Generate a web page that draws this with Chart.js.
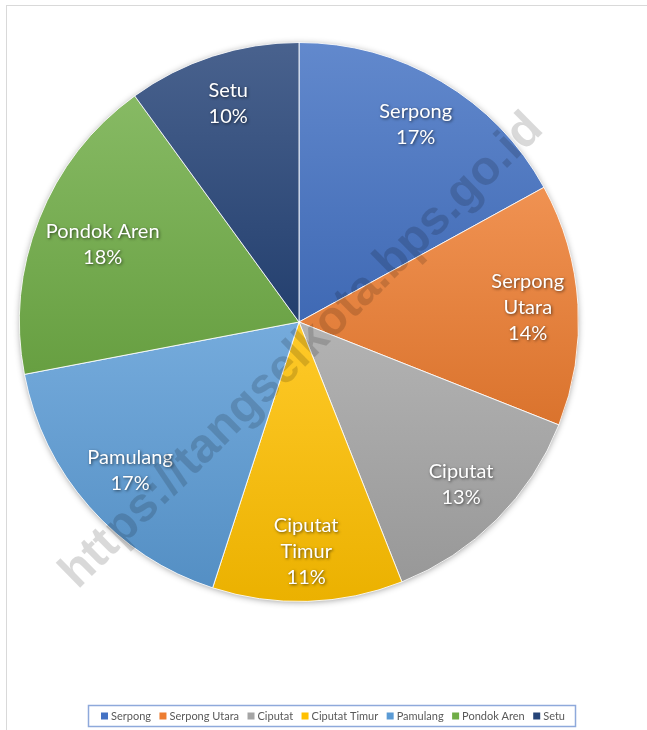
<!DOCTYPE html>
<html><head><meta charset="utf-8">
<script src="https://cdn.jsdelivr.net/npm/chart.js@4.4.0/dist/chart.umd.min.js"></script>
<style>html,body{margin:0;padding:0;background:#fff;} #wrap{width:647px;height:730px;position:relative;}</style>
</head><body><div id="wrap"><canvas id="c"></canvas></div>
<script>
const categories = ['Serpong','Serpong Utara','Ciputat','Ciputat Timur','Pamulang','Pondok Aren','Setu'];
const shares = [17,14,13,11,17,18,10];
const sliceColors = ['#4472C4','#ED7D31','#A5A5A5','#FFC000','#5B9BD5','#70AD47','#264478'];
const watermarkText = 'https://tangselkota.bps.go.id';

function hexToRgb(h){const n=parseInt(h.slice(1),16);return [(n>>16)&255,(n>>8)&255,n&255];}
function mix(h,t){
  const c=hexToRgb(h);
  const r=c.map(v=>t>=0?Math.round(v+(255-v)*t):Math.round(v*(1+t)));
  return 'rgb('+r.join(',')+')';
}
const total = shares.reduce((a,b)=>a+b,0);

function sliceGradient(context){
  const chart=context.chart, a=chart.chartArea, i=context.dataIndex;
  const base=sliceColors[i];
  if(!a) return base;
  const cx=(a.left+a.right)/2, cy=(a.top+a.bottom)/2, R=Math.min(a.width,a.height)/2;
  let before=0; for(let k=0;k<i;k++) before+=shares[k];
  const s=-Math.PI/2+before/total*2*Math.PI, e=s+shares[i]/total*2*Math.PI;
  const ys=[cy, cy+R*Math.sin(s), cy+R*Math.sin(e)];
  for(const ang of [Math.PI/2, -Math.PI/2, 3*Math.PI/2]){
    if(ang>s && ang<e) ys.push(cy+R*Math.sin(ang));
  }
  const top=Math.min(...ys), bot=Math.max(...ys);
  const g=chart.ctx.createLinearGradient(0,top,0,bot);
  g.addColorStop(0, mix(base,0.16));
  g.addColorStop(1, mix(base,-0.08));
  return g;
}

const framePlugin = {
  id:'frame',
  beforeDraw(chart){
    const ctx=chart.ctx; ctx.save();
    ctx.strokeStyle='#d9d9d9'; ctx.lineWidth=1;
    ctx.strokeRect(6.5,5.5,chart.width,chart.height);
    ctx.restore();
  },
  beforeDatasetsDraw(chart){
    const meta=chart.getDatasetMeta(0); const arc=meta.data[0]; if(!arc) return;
    const p=arc.getProps(['x','y','outerRadius'],true);
    const ctx=chart.ctx; ctx.save();
    ctx.shadowColor='rgba(0,0,0,0.45)'; ctx.shadowBlur=7; ctx.shadowOffsetX=0; ctx.shadowOffsetY=1;
    ctx.fillStyle='#888'; ctx.beginPath(); ctx.arc(p.x,p.y,p.outerRadius-1,0,Math.PI*2); ctx.fill();
    ctx.restore();
  }
};

const labelPlugin = {
  id:'sliceLabels',
  afterDatasetsDraw(chart){
    const ctx=chart.ctx, meta=chart.getDatasetMeta(0);
    ctx.save();
    ctx.font='20px Lato'; ctx.fillStyle='#fff'; ctx.textAlign='center'; ctx.textBaseline='middle';
    meta.data.forEach((arc,i)=>{
      const p=arc.getProps(['x','y','startAngle','endAngle','outerRadius'],true);
      const mid=(p.startAngle+p.endAngle)/2;
      const pct=Math.round(shares[i]/total*100)+'%';
      const lines=(shares[i]<15 && categories[i].includes(' '))?[...categories[i].split(' '),pct]:[categories[i],pct];
      const lh=26;
      const w=Math.max(...lines.map(l=>ctx.measureText(l).width))+4;
      const h=lines.length*lh-8;
      let r=p.outerRadius*0.82; const lim=p.outerRadius-5;
      let cx,cy;
      for(let k=0;k<150;k++){
        cx=p.x+Math.cos(mid)*r; cy=p.y+Math.sin(mid)*r;
        const cs=[[cx-w/2,cy-h/2],[cx+w/2,cy-h/2],[cx-w/2,cy+h/2],[cx+w/2,cy+h/2]];
        if(cs.every(([x,y])=>Math.hypot(x-p.x,y-p.y)<=lim)) break;
        r-=1;
      }
      ctx.shadowColor='rgba(0,0,0,0.6)'; ctx.shadowBlur=3; ctx.shadowOffsetX=1; ctx.shadowOffsetY=1;
      lines.forEach((l,j)=>{
        ctx.fillText(l, cx, cy-(lines.length-1)*lh/2+j*lh);
      });
    });
    ctx.restore();
  },
  afterDraw(chart){
    const ctx=chart.ctx;
    ctx.save();
    ctx.strokeStyle='#8EA9DB'; ctx.lineWidth=1.5;
    ctx.strokeRect(88.5,705.5,487,21);
    ctx.font='11px Lato'; ctx.textBaseline='middle'; ctx.textAlign='left';
    const box=7, gap=3, x0=101, x1=565;
    const widths=categories.map(c=>box+gap+ctx.measureText(c).width);
    const sum=widths.reduce((a,b)=>a+b,0);
    const sp=(x1-x0-sum)/(categories.length-1);
    let x=x0; const y=716;
    categories.forEach((c,i)=>{
      ctx.fillStyle=sliceColors[i]; ctx.fillRect(x,y-box/2,box,box);
      ctx.fillStyle='#595959'; ctx.fillText(c,x+box+gap,y+0.5);
      x+=widths[i]+sp;
    });
    ctx.restore();
    ctx.save();
    ctx.translate(302,351); ctx.rotate(-44.5*Math.PI/180);
    ctx.font='bold 48px "Liberation Sans"';
    const tw=ctx.measureText(watermarkText).width;
    const sc=655/tw; ctx.scale(sc,sc);
    ctx.fillStyle='rgba(0,0,0,0.15)'; ctx.textAlign='center'; ctx.textBaseline='middle';
    ctx.fillText(watermarkText,0,0);
    ctx.restore();
  }
};

new Chart(document.getElementById('c'),{
  type:'pie',
  data:{labels:categories,datasets:[{data:shares,backgroundColor:sliceGradient,borderColor:'rgba(255,255,255,0.85)',borderWidth:1,hoverOffset:0}]},
  options:{
    responsive:true, maintainAspectRatio:false, animation:false, events:[],
    layout:{padding:{left:19,right:68,top:42,bottom:128}},
    plugins:{legend:{display:false},tooltip:{enabled:false}}
  },
  plugins:[framePlugin,labelPlugin]
});
</script></body></html>
